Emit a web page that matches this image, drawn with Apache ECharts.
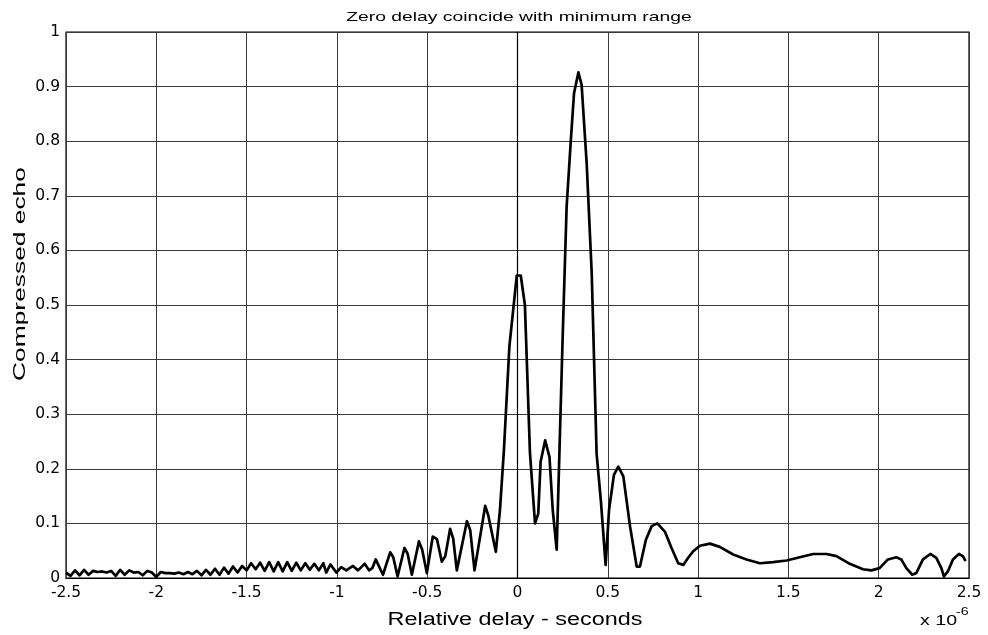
<!DOCTYPE html>
<html>
<head>
<meta charset="utf-8">
<script src="https://cdn.jsdelivr.net/npm/echarts@6/dist/echarts.min.js"></script>
<style>
  html, body { margin: 0; padding: 0; background: #ffffff; }
  #chart { width: 988px; height: 635px; }
</style>
</head>
<body>
<div id="chart"></div>
<script>
// Compressed echo magnitude versus relative delay (microseconds, axis scaled x 10^-6)

// Low-level ripple before the main response
const leadDelays = [
  -2.500, -2.475, -2.450, -2.425, -2.400, -2.375, -2.350, -2.325, -2.300, -2.275,
  -2.250, -2.225, -2.200, -2.175, -2.150, -2.125, -2.100, -2.075, -2.050, -2.025,
  -2.000, -1.975, -1.950, -1.925, -1.900, -1.875, -1.850, -1.825, -1.800, -1.775,
  -1.750, -1.725, -1.700, -1.675, -1.650, -1.625, -1.600, -1.575, -1.550, -1.525,
  -1.500, -1.475, -1.450, -1.425, -1.400, -1.375, -1.350, -1.325, -1.300, -1.275,
  -1.250, -1.225, -1.200, -1.175, -1.150, -1.125, -1.100, -1.075, -1.059, -1.036
];
const leadEcho = [
  0.010, 0.004, 0.014, 0.005, 0.015, 0.006, 0.013, 0.011, 0.012, 0.010,
  0.013, 0.004, 0.015, 0.006, 0.014, 0.010, 0.011, 0.005, 0.013, 0.010,
  0.002, 0.011, 0.009, 0.009, 0.008, 0.010, 0.007, 0.011, 0.007, 0.013,
  0.005, 0.015, 0.006, 0.017, 0.006, 0.019, 0.008, 0.021, 0.010, 0.022,
  0.014, 0.027, 0.016, 0.028, 0.013, 0.029, 0.012, 0.029, 0.012, 0.029,
  0.013, 0.028, 0.014, 0.027, 0.015, 0.026, 0.014, 0.027, 0.010, 0.025
];

// Rising sidelobes, the zero-delay peak and the main compressed peak
const mainDelays = [
  -1.003, -0.976, -0.948, -0.911, -0.883, -0.846, -0.822, -0.804, -0.785, -0.745,
  -0.705, -0.688, -0.664, -0.626, -0.608, -0.585, -0.546, -0.528, -0.502, -0.469,
  -0.446, -0.419, -0.400, -0.373, -0.356, -0.336, -0.280, -0.262, -0.238, -0.179,
  -0.162, -0.120, -0.097, -0.075, -0.045, -0.004, 0.018, 0.041, 0.069, 0.097,
  0.115, 0.128, 0.153, 0.177, 0.195, 0.217, 0.250, 0.272, 0.295, 0.313,
  0.337, 0.355, 0.383, 0.411, 0.438, 0.462, 0.488
];
const mainEcho = [
  0.010, 0.020, 0.014, 0.022, 0.014, 0.026, 0.014, 0.018, 0.034, 0.006,
  0.047, 0.038, 0.003, 0.055, 0.044, 0.006, 0.067, 0.052, 0.009, 0.076,
  0.071, 0.030, 0.040, 0.090, 0.072, 0.014, 0.104, 0.088, 0.014, 0.132,
  0.115, 0.048, 0.125, 0.235, 0.424, 0.554, 0.554, 0.500, 0.229, 0.100,
  0.118, 0.213, 0.252, 0.222, 0.125, 0.052, 0.440, 0.680, 0.800, 0.888,
  0.926, 0.903, 0.760, 0.558, 0.228, 0.140, 0.024
];

// Decaying range sidelobes after the main peak
const tailDelays = [
  0.507, 0.534, 0.558, 0.586, 0.623, 0.660, 0.678, 0.711, 0.743, 0.774,
  0.816, 0.853, 0.890, 0.918, 0.945, 0.973, 1.010, 1.065, 1.120, 1.194,
  1.268, 1.342, 1.415, 1.490, 1.563, 1.637, 1.711, 1.766, 1.840, 1.913,
  1.960, 2.005, 2.051, 2.098, 2.125, 2.153, 2.186, 2.208, 2.245, 2.286,
  2.319, 2.347, 2.361, 2.383, 2.411, 2.444, 2.466, 2.481
];
const tailEcho = [
  0.125, 0.189, 0.204, 0.186, 0.095, 0.021, 0.021, 0.070, 0.095, 0.100,
  0.085, 0.055, 0.027, 0.024, 0.037, 0.049, 0.059, 0.063, 0.057, 0.043,
  0.034, 0.027, 0.029, 0.032, 0.038, 0.044, 0.044, 0.040, 0.026, 0.016,
  0.014, 0.018, 0.034, 0.038, 0.034, 0.018, 0.006, 0.009, 0.034, 0.044,
  0.037, 0.018, 0.003, 0.012, 0.034, 0.044, 0.040, 0.031
];

const xTickLabels = ['-2.5', '-2', '-1.5', '-1', '-0.5', '0', '0.5', '1', '1.5', '2', '2.5'];
const yTickLabels = ['0', '0.1', '0.2', '0.3', '0.4', '0.5', '0.6', '0.7', '0.8', '0.9', '1'];

const delays = leadDelays.concat(mainDelays, tailDelays);
const echo = leadEcho.concat(mainEcho, tailEcho);
const points = delays.map((d, i) => [d, echo[i]]);

const chart = echarts.init(document.getElementById('chart'), null, { renderer: 'canvas' });

const gridColor = '#3a3a3a';
const labelFont = { color: '#000', fontFamily: 'DejaVu Sans', fontSize: 15.5 };

chart.setOption({
  animation: false,
  backgroundColor: '#ffffff',
  grid: {
    left: 66, right: 19, top: 32, bottom: 57,
    show: true, borderColor: '#000', borderWidth: 1.2, backgroundColor: 'transparent'
  },
  xAxis: {
    type: 'value', min: -2.5, max: 2.5, interval: 0.5,
    axisLine: { show: true, onZero: false, lineStyle: { color: '#000', width: 1.2 } },
    axisTick: { show: false },
    splitLine: { show: true, lineStyle: { color: gridColor, width: 1 } },
    axisLabel: Object.assign({
      margin: 7,
      formatter: v => xTickLabels[Math.round((v + 2.5) / 0.5)]
    }, labelFont)
  },
  yAxis: {
    type: 'value', min: 0, max: 1, interval: 0.1,
    axisLine: { show: true, lineStyle: { color: '#000', width: 1.2 } },
    axisTick: { show: false },
    splitLine: { show: true, lineStyle: { color: gridColor, width: 1 } },
    axisLabel: Object.assign({
      margin: 6,
      formatter: v => yTickLabels[Math.round(v / 0.1)]
    }, labelFont)
  },
  series: [{
    type: 'line',
    data: points,
    showSymbol: false,
    symbol: 'none',
    lineStyle: { color: '#000', width: 2.7, join: 'round' },
    z: 5
  }],
  graphic: [
    {
      type: 'text', x: 519, y: 17, scaleX: 1.43,
      style: {
        text: 'Zero delay coincide with minimum range',
        font: '13.5px "Liberation Sans"', fill: '#000',
        align: 'center', verticalAlign: 'middle'
      }
    },
    {
      type: 'text', x: 515, y: 620, scaleX: 1.3,
      style: {
        text: 'Relative delay - seconds',
        font: '18px "Liberation Sans"', fill: '#000',
        align: 'center', verticalAlign: 'middle'
      }
    },
    {
      type: 'text', x: 20, y: 274, rotation: Math.PI / 2, scaleX: 1.55,
      style: {
        text: 'Compressed echo',
        font: '17px "Liberation Sans"', fill: '#000',
        align: 'center', verticalAlign: 'middle'
      }
    },
    {
      type: 'text', x: 920, y: 628, scaleX: 1.4,
      style: {
        text: 'x 10',
        font: '14px "Liberation Sans"', fill: '#000',
        align: 'left', verticalAlign: 'bottom'
      }
    },
    {
      type: 'text', x: 956, y: 611.5, scaleX: 1.3,
      style: {
        text: '-6',
        font: '11px "Liberation Sans"', fill: '#000',
        align: 'left', verticalAlign: 'middle'
      }
    }
  ]
});
</script>
</body>
</html>
